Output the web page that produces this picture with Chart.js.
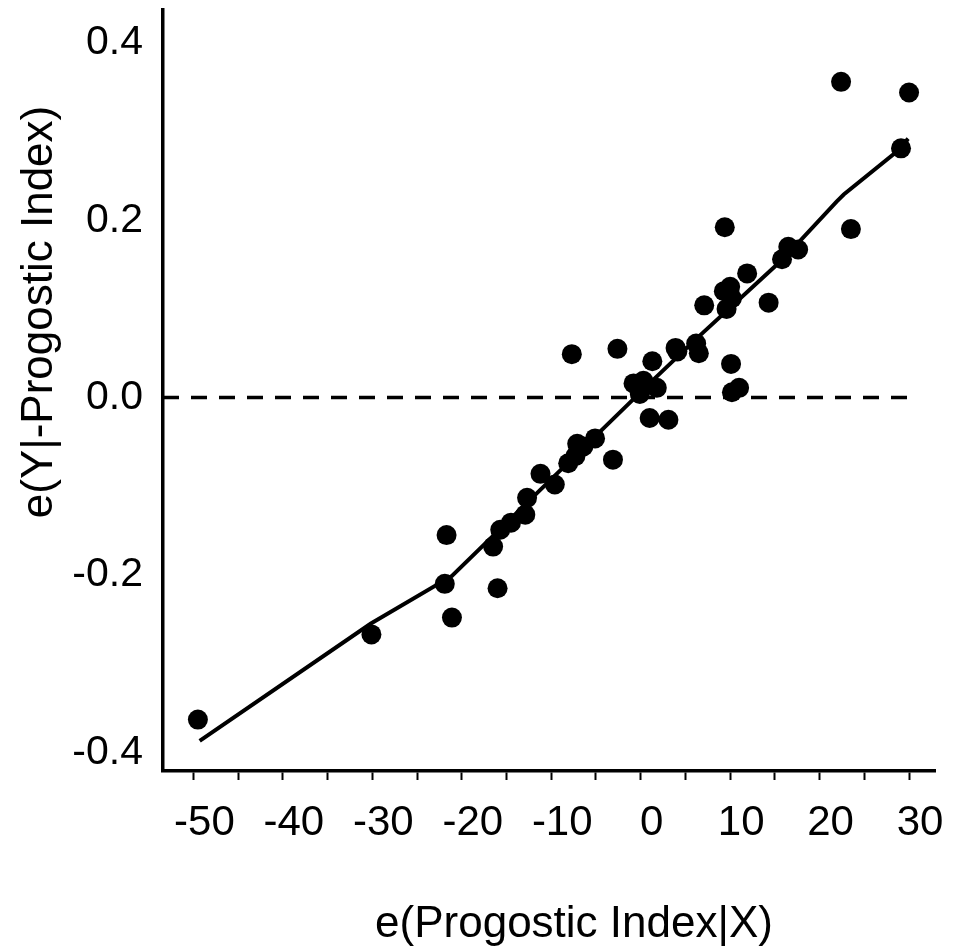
<!DOCTYPE html>
<html>
<head>
<meta charset="utf-8">
<script src="https://cdn.jsdelivr.net/npm/chart.js@4/dist/chart.umd.min.js"></script>
<style>
  body { margin: 0; background: #fff; }
</style>
</head>
<body>
<canvas id="myChart" width="966" height="948"></canvas>
<script>
// residuals (added variable plot)
const pointX = [-49.5, -30.1, -21.9, -21.7, -21.1, -16.5, -16.0, -15.7, -14.5, -12.9,
  -12.7, -11.2, -9.6, -8.1, -7.3, -7.1, -6.4, -5.1, -3.1, -7.7,
  -2.6, -0.8, 0.3, -0.1, 1.8, 1.0, 3.1, 1.3, 3.9, 4.1,
  6.2, 6.5, 7.1, 9.3, 9.6, 10.0, 10.2, 9.4, 10.1, 11.0,
  10.2, 11.9, 14.3, 15.8, 16.5, 17.6, 22.4, 23.5, 29.1, 30.0];
const pointY = [-0.363, -0.267, -0.210, -0.155, -0.248, -0.168, -0.215, -0.149, -0.141, -0.132,
  -0.113, -0.086, -0.098, -0.074, -0.066, -0.052, -0.055, -0.046, -0.070, 0.049,
  0.055, 0.016, 0.019, 0.004, 0.011, -0.023, -0.025, 0.041, 0.056, 0.052,
  0.061, 0.050, 0.104, 0.120, 0.100, 0.125, 0.112, 0.192, 0.038, 0.011,
  0.006, 0.140, 0.107, 0.156, 0.170, 0.167, 0.356, 0.190, 0.281, 0.344];

// smoothed fit line
const fitX = [-49.3, -30.2, -21.1, 1.4, 6.3, 16.0, 21.9, 22.7, 28.6, 29.9];
const fitY = [-0.387, -0.255, -0.201, 0.020, 0.067, 0.157, 0.221, 0.229, 0.277, 0.292];

// zero reference line
const zeroX = [-53.4, 30.1];
const zeroY = [0, 0];

const xTickValues = [-50, -45, -40, -35, -30, -25, -20, -15, -10, -5, 0, 5, 10, 15, 20, 25, 30];
const xTickLabels = ['-50', '', '-40', '', '-30', '', '-20', '', '-10', '', '0', '', '10', '', '20', '', '30'];
const yTickValues = [-0.4, -0.2, 0, 0.2, 0.4];
const yTickLabels = ['-0.4', '-0.2', '0.0', '0.2', '0.4'];

const xTitle = 'e(Progostic Index|X)';
const yTitle = 'e(Y|-Progostic Index)';

const fontFamily = '"Liberation Sans", Arial, Helvetica, sans-serif';

function toPoints(xs, ys) {
  return xs.map((x, i) => ({ x: x, y: ys[i] }));
}

const axisTitles = {
  id: 'axisTitles',
  afterDraw(chart) {
    const ctx = chart.ctx;
    const area = chart.chartArea;
    ctx.save();
    ctx.fillStyle = '#000';
    ctx.font = '44px ' + fontFamily;
    ctx.textAlign = 'center';
    ctx.textBaseline = 'alphabetic';
    ctx.fillText(xTitle, area.left + 411, 937);
    ctx.translate(52, area.top + 302);
    ctx.rotate(-Math.PI / 2);
    ctx.fillText(yTitle, 0, 0);
    ctx.restore();
  }
};

const ctx = document.getElementById('myChart');
const chart = new Chart(ctx, {
  type: 'scatter',
  data: {
    datasets: [{
      label: 'residuals',
      data: toPoints(pointX, pointY),
      backgroundColor: '#000',
      borderColor: '#000',
      pointRadius: 10,
      pointBorderWidth: 0
    }, {
      label: 'fit',
      data: toPoints(fitX, fitY),
      showLine: true,
      borderColor: '#000',
      borderWidth: 4,
      pointRadius: 0,
      tension: 0
    }, {
      label: 'zero',
      data: toPoints(zeroX, zeroY),
      showLine: true,
      borderColor: '#000',
      borderWidth: 3.5,
      borderDash: [16, 12],
      pointRadius: 0
    }]
  },
  options: {
    responsive: false,
    animation: false,
    layout: { padding: { top: 8, right: 31, left: 0, bottom: 0 } },
    plugins: {
      legend: { display: false },
      tooltip: { enabled: false }
    },
    scales: {
      x: {
        type: 'linear',
        min: -53.4,
        max: 32.9,
        afterBuildTicks: scale => { scale.ticks = xTickValues.map(v => ({ value: v })); },
        afterFit: scale => {
          scale.height = 177;
          scale.paddingLeft = 0;
          scale.paddingRight = 0;
        },
        grid: {
          display: true,
          drawOnChartArea: false,
          drawTicks: true,
          tickLength: 9,
          tickWidth: 2,
          tickColor: '#000'
        },
        border: { color: '#000', width: 3.5 },
        ticks: {
          color: '#000',
          padding: 18,
          labelOffset: 11,
          maxRotation: 0,
          autoSkip: false,
          font: { family: fontFamily, size: 42 },
          callback: (value, index) => xTickLabels[index]
        }
      },
      y: {
        type: 'linear',
        min: -0.421,
        max: 0.437,
        afterBuildTicks: scale => { scale.ticks = yTickValues.map(v => ({ value: v })); },
        afterFit: scale => {
          scale.width = 163;
          scale.paddingTop = 0;
          scale.paddingBottom = 0;
        },
        grid: { display: false, drawTicks: false },
        border: { color: '#000', width: 3.5 },
        ticks: {
          color: '#000',
          padding: 20,
          autoSkip: false,
          font: { family: fontFamily, size: 41 },
          callback: (value, index) => yTickLabels[index]
        }
      }
    }
  },
  plugins: [axisTitles]
});
</script>
</body>
</html>
